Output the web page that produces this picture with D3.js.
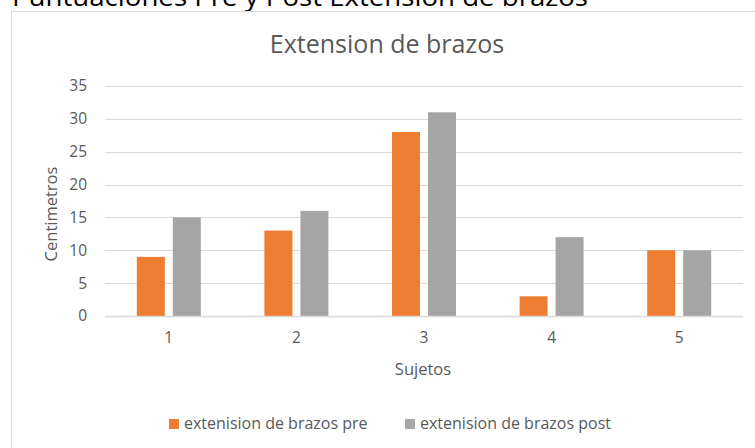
<!DOCTYPE html>
<html>
<head>
<meta charset="utf-8">
<script src="https://cdn.jsdelivr.net/npm/d3@7"></script>
<style>
  body { margin: 0; background: #fff; }
  svg { display: block; font-family: "Open Sans", sans-serif; }
</style>
</head>
<body>
<svg id="chart" width="755" height="448"></svg>
<script>
// Data
const subjects = ["1", "2", "3", "4", "5"];
const preValues = [9, 13, 28, 3, 10];
const postValues = [15, 16, 31, 12, 10];
const seriesNames = ["extenision de brazos pre", "extenision de brazos post"];
const yTicks = [0, 5, 10, 15, 20, 25, 30, 35];

const colors = ["#ED7D31", "#A5A5A5"];
const textColor = "#595959";
const gridColor = "#D9D9D9";

const svg = d3.select("#chart");

// Page heading above the chart frame (runs off the top edge)
svg.append("text")
  .attr("x", 12).attr("y", 6)
  .attr("font-size", 26)
  .attr("fill", "#000")
  .attr("textLength", 576)
  .attr("lengthAdjust", "spacingAndGlyphs")
  .text("Puntuaciones Pre y Post Extension de brazos");

// Chart frame
svg.append("rect")
  .attr("x", 11.5).attr("y", 11.5)
  .attr("width", 760).attr("height", 460)
  .attr("fill", "#fff")
  .attr("stroke", gridColor);

const plot = { left: 105, right: 743, top: 86, bottom: 316 };

const x0 = d3.scaleBand().domain(subjects).range([plot.left, plot.right]);
const x1 = d3.scaleBand().domain([0, 1]).range([-32, 32]).paddingInner(0.222);
const y = d3.scaleLinear().domain([0, 35]).range([plot.bottom, plot.top]);

// Title
svg.append("text")
  .attr("x", 387).attr("y", 53)
  .attr("text-anchor", "middle")
  .attr("font-size", 25)
  .attr("fill", textColor)
  .text("Extension de brazos");

// Gridlines
svg.append("g")
  .selectAll("line")
  .data(yTicks.filter(d => d > 0))
  .join("line")
  .attr("x1", plot.left).attr("x2", plot.right)
  .attr("y1", d => Math.round(y(d)) + 0.5)
  .attr("y2", d => Math.round(y(d)) + 0.5)
  .attr("stroke", gridColor)
  .attr("stroke-width", 1.2);

// Y axis labels
const yAxis = d3.axisLeft(y).tickValues(yTicks).tickSize(0).tickPadding(18);
const gy = svg.append("g").attr("transform", `translate(${plot.left},0)`).call(yAxis);
gy.select(".domain").remove();
gy.selectAll("text").attr("font-size", 15.5).attr("fill", textColor).attr("font-family", "'Open Sans', sans-serif");

// Bars
const groups = svg.append("g")
  .selectAll("g")
  .data(subjects)
  .join("g")
  .attr("transform", d => `translate(${x0(d) + x0.bandwidth() / 2},0)`);

groups.selectAll("rect")
  .data((d, i) => [preValues[i], postValues[i]])
  .join("rect")
  .attr("x", (d, j) => x1(j))
  .attr("width", x1.bandwidth())
  .attr("y", d => y(d))
  .attr("height", d => y(0) - y(d))
  .attr("fill", (d, j) => colors[j]);

// X axis
const xAxis = d3.axisBottom(x0).tickSize(0).tickPadding(16);
const gx = svg.append("g").attr("transform", `translate(0,${plot.bottom})`).call(xAxis);
gx.select(".domain").attr("stroke", gridColor).attr("stroke-width", 1.5).attr("d", `M${plot.left},0.5H${plot.right}`);
gx.selectAll("text").attr("font-size", 15.5).attr("fill", textColor).attr("font-family", "'Open Sans', sans-serif");

// Axis titles
svg.append("text")
  .attr("transform", `translate(57,214) rotate(-90)`)
  .attr("text-anchor", "middle")
  .attr("font-size", 16.5)
  .attr("fill", textColor)
  .text("Centimetros");

svg.append("text")
  .attr("x", 423).attr("y", 375)
  .attr("text-anchor", "middle")
  .attr("font-size", 16.5)
  .attr("fill", textColor)
  .text("Sujetos");

// Legend
const legendX = [169, 405];
const legend = svg.append("g")
  .selectAll("g")
  .data(seriesNames)
  .join("g")
  .attr("transform", (d, i) => `translate(${legendX[i]},419)`);
legend.append("rect")
  .attr("width", 10).attr("height", 10)
  .attr("fill", (d, i) => colors[i]);
legend.append("text")
  .attr("x", 15).attr("y", 10)
  .attr("font-size", 16)
  .attr("fill", textColor)
  .text(d => d);
</script>
</body>
</html>
